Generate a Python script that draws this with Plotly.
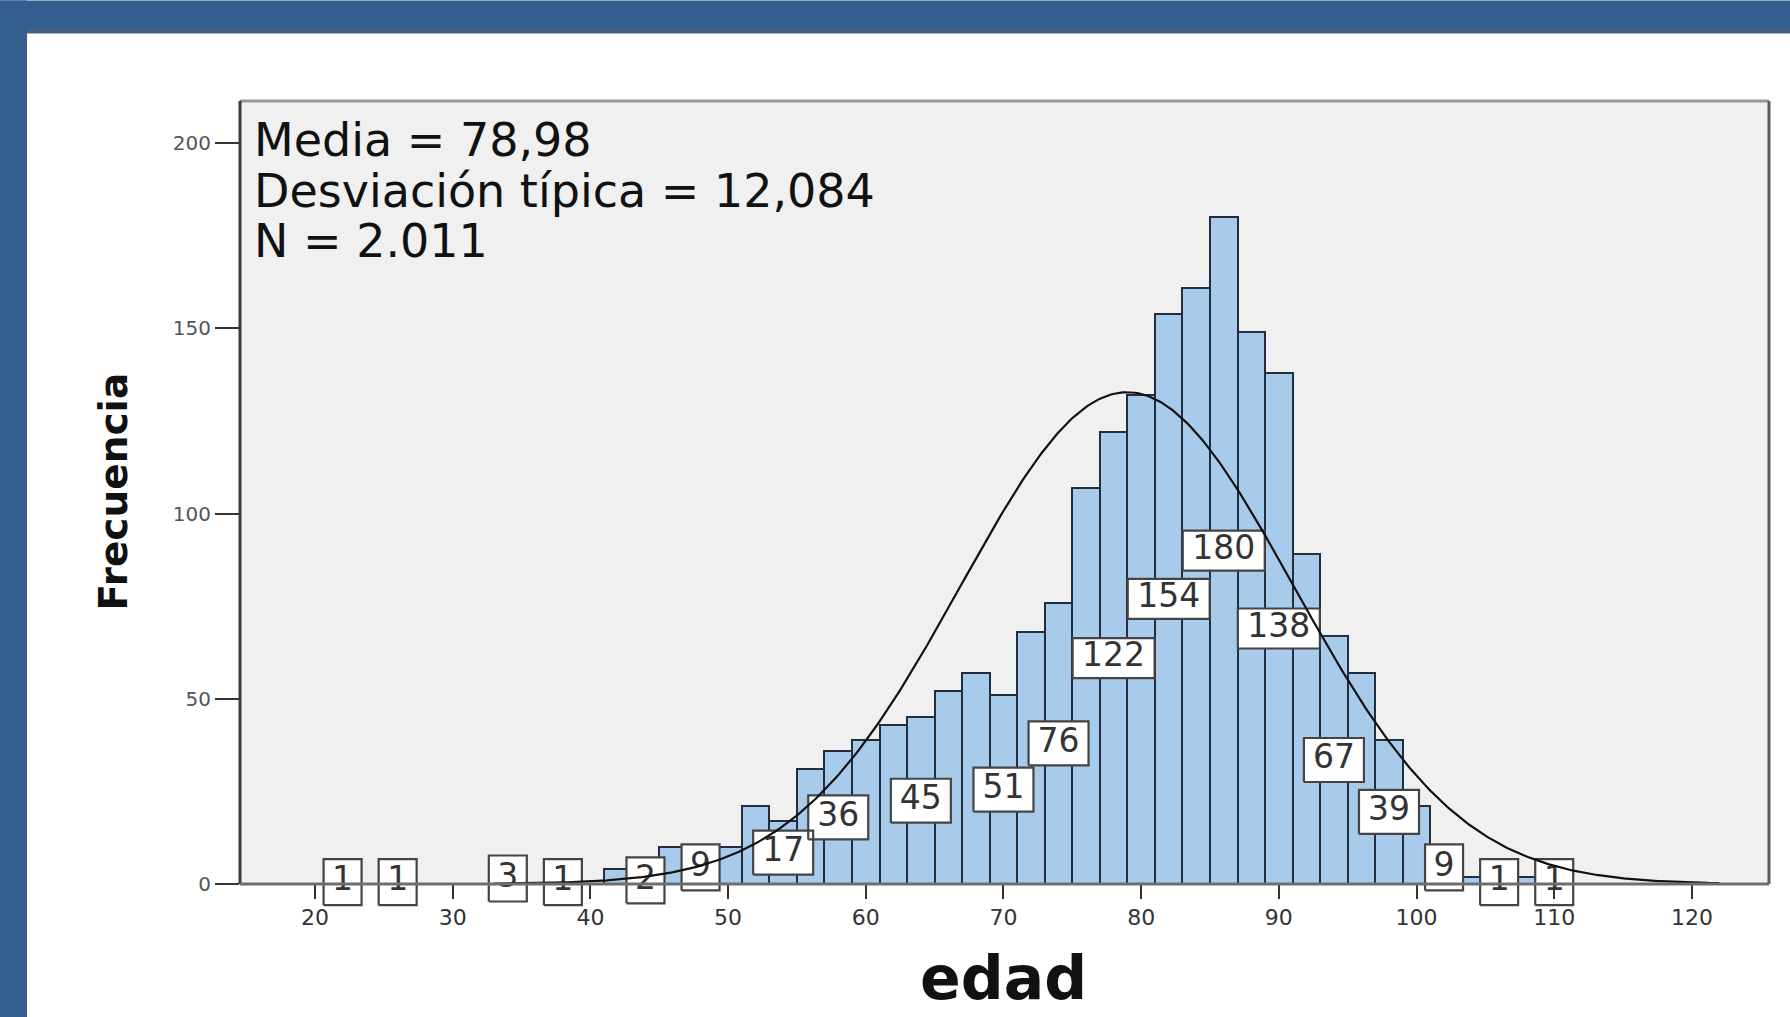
import numpy as np
import plotly.graph_objects as go

# ---------------- data ----------------
bin_centers = [22, 26, 34, 38, 42, 44, 46, 48, 50, 52, 54, 56, 58, 60, 62, 64, 66, 68,
               70, 72, 74, 76, 78, 80, 82, 84, 86, 88, 90, 92, 94, 96, 98, 100, 102,
               104, 106, 108, 110]
counts = [1, 1, 3, 1, 4, 2, 10, 9, 10, 21, 17, 31, 36, 39, 43, 45, 52, 57,
          51, 68, 76, 107, 122, 132, 154, 161, 180, 149, 138, 89, 67, 57, 39, 21, 9,
          2, 1, 2, 1]
labeled_bins = [22, 26, 34, 38, 44, 48, 54, 58, 64, 70, 74, 78, 82, 86, 90, 94, 98,
                102, 106, 110]
x_ticks = [20, 30, 40, 50, 60, 70, 80, 90, 100, 110, 120]
y_ticks = [0, 50, 100, 150, 200]
MEAN = 78.98
SD = 12.084
N = 2011
BIN_WIDTH = 2
stats_lines = ["Media = 78,98", "Desviación típica = 12,084", "N = 2.011"]
x_title = "edad"
y_title = "Frecuencia"

# ---------------- geometry ----------------
FIG_W, FIG_H = 1790, 1017
PLOT_L, PLOT_R = 240, 1769
PLOT_T = 100.5
X_RANGE = [14.55, 125.6]
Y_TOP = 211.4
Y_BOTTOM = -7.0
Y0_PX = 883.6
px_per_y = (Y0_PX - PLOT_T) / Y_TOP
PLOT_B = Y0_PX - Y_BOTTOM * px_per_y
px_per_x = (PLOT_R - PLOT_L) / (X_RANGE[1] - X_RANGE[0])
PLOT_W = PLOT_R - PLOT_L
PLOT_H = PLOT_B - PLOT_T


def pxx(px):
    return (px - PLOT_L) / PLOT_W


def pxy(py):
    return (PLOT_B - py) / PLOT_H


y0_paper = (0 - Y_BOTTOM) / (Y_TOP - Y_BOTTOM)

FONT = "DejaVu Sans"
BAR_FILL = "rgb(168,203,236)"
BAR_LINE = "rgb(34,46,62)"

fig = go.Figure()

# bars
fig.add_trace(go.Bar(
    x=bin_centers, y=counts, width=BIN_WIDTH,
    marker=dict(color=BAR_FILL, line=dict(color=BAR_LINE, width=2)),
    hoverinfo="x+y", showlegend=False,
))

# label boxes (drawn below the curve, as in the original)
box_x, box_y, lab_x, lab_y, lab_t = [], [], [], [], []
box_h = {1: 46, 2: 44, 3: 40}
for c in labeled_bins:
    v = counts[bin_centers.index(c)]
    nd = len(str(v))
    hw = (16 + 22 * nd) / 2 / px_per_x
    hh = box_h[nd] / 2 / px_per_y
    yc = v / 2
    box_x += [c - hw, c + hw, c + hw, c - hw, c - hw, None]
    box_y += [yc - hh, yc - hh, yc + hh, yc + hh, yc - hh, None]
    lab_x.append(c)
    lab_y.append(yc)
    lab_t.append(str(v))

fig.add_trace(go.Scatter(
    x=box_x, y=box_y, mode="lines", fill="toself", fillcolor="white",
    line=dict(color="#444444", width=2.2), hoverinfo="skip", showlegend=False,
))
fig.add_trace(go.Scatter(
    x=lab_x, y=lab_y, mode="text", text=lab_t, textposition="middle center",
    textfont=dict(family=FONT, size=33, color="#333333"), cliponaxis=False,
    hoverinfo="skip", showlegend=False,
))

# fitted normal curve from the stated mean / sd / N
cx = np.linspace(33, 122, 500)
cy = N * BIN_WIDTH / (SD * np.sqrt(2 * np.pi)) * np.exp(-0.5 * ((cx - MEAN) / SD) ** 2)
fig.add_trace(go.Scatter(
    x=cx, y=cy, mode="lines", line=dict(color="#111111", width=2.2),
    hoverinfo="skip", showlegend=False,
))

shapes = [
    # grey plot background (above zero only)
    dict(type="rect", xref="paper", yref="paper", x0=0, x1=1, y0=y0_paper, y1=1,
         fillcolor="#F0F0F0", line=dict(width=0), layer="below"),
    # frame
    dict(type="line", xref="paper", yref="paper", x0=0, x1=1, y0=1, y1=1,
         line=dict(color="#9a9a9a", width=3)),
    dict(type="line", xref="paper", yref="paper", x0=0, x1=0, y0=y0_paper, y1=1,
         line=dict(color="#3a3a3a", width=3)),
    dict(type="line", xref="paper", yref="paper", x0=1, x1=1, y0=y0_paper, y1=1,
         line=dict(color="#5a5a5a", width=3)),
    dict(type="line", xref="paper", yref="paper", x0=0, x1=1, y0=y0_paper, y1=y0_paper,
         line=dict(color="#6e6e6e", width=3)),
    # blue page border
    dict(type="rect", xref="paper", yref="paper", x0=pxx(0), x1=pxx(FIG_W),
         y0=pxy(32), y1=pxy(0), fillcolor="#335E8E", line=dict(width=0), layer="above"),
    dict(type="rect", xref="paper", yref="paper", x0=pxx(27), x1=pxx(FIG_W),
         y0=pxy(33), y1=pxy(28), fillcolor="#48627E", line=dict(width=0), layer="above"),
    dict(type="rect", xref="paper", yref="paper", x0=pxx(0), x1=pxx(27),
         y0=pxy(FIG_H), y1=pxy(0), fillcolor="#335E8E", line=dict(width=0), layer="above"),
]

annotations = []
line_px = [140, 190.6, 241]
for txt, py in zip(stats_lines, line_px):
    annotations.append(dict(
        text=txt, xref="paper", yref="paper", x=pxx(252), y=pxy(py),
        xanchor="left", yanchor="middle", showarrow=False,
        font=dict(family=FONT, size=46, color="#111111"),
    ))
annotations.append(dict(
    text="<b>" + x_title + "</b>", xref="paper", yref="paper",
    x=pxx(1003), y=pxy(978), xanchor="center", yanchor="middle", showarrow=False,
    font=dict(family=FONT, size=60, color="#111111"),
))
annotations.append(dict(
    text="<b>" + y_title + "</b>", xref="paper", yref="paper",
    x=pxx(113), y=pxy(491), xanchor="center", yanchor="middle", showarrow=False,
    textangle=-90, font=dict(family=FONT, size=39, color="#111111"),
))

fig.update_layout(
    width=FIG_W, height=FIG_H,
    margin=dict(l=PLOT_L, r=FIG_W - PLOT_R, t=PLOT_T, b=FIG_H - PLOT_B, autoexpand=False),
    paper_bgcolor="white", plot_bgcolor="white",
    bargap=0, showlegend=False,
    shapes=shapes, annotations=annotations,
    xaxis=dict(
        range=X_RANGE, tickvals=x_ticks, ticktext=[str(t) for t in x_ticks],
        ticks="outside", ticklen=14, tickwidth=2, tickcolor="#333333",
        tickfont=dict(family=FONT, size=22, color="#333333"),
        showgrid=False, zeroline=False, showline=False,
        anchor="free", position=y0_paper,
    ),
    yaxis=dict(
        range=[Y_BOTTOM, Y_TOP], tickvals=y_ticks, ticktext=[str(t) for t in y_ticks],
        ticks="outside", ticklen=24, tickwidth=2, tickcolor="#333333",
        tickfont=dict(family=FONT, size=20, color="#555555"),
        showgrid=False, zeroline=False, showline=False,
    ),
)

fig.write_html(
    "out.html",
    config={"displayModeBar": False},
    post_script="document.body.style.margin='0px';document.body.style.overflow='hidden';",
)
